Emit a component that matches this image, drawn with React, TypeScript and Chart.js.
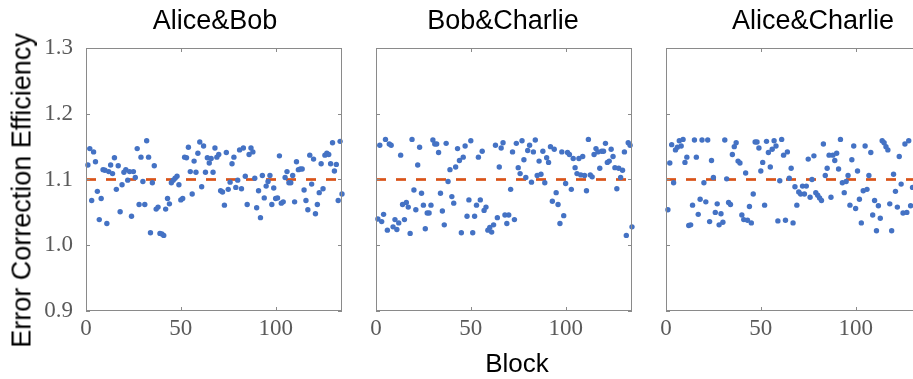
import React, { useEffect, useRef } from "react";
import { Chart, registerables } from "chart.js";

Chart.register(...registerables);

// ---------------- data ----------------
const panelTitles = ["Alice&Bob", "Bob&Charlie", "Alice&Charlie"];

const aliceBob = [
  1.122, 1.147, 1.068, 1.142, 1.127, 1.082, 1.039, 1.071, 1.115, 1.114,
  1.033, 1.112, 1.122, 1.109, 1.133, 1.085, 1.121, 1.051, 1.092, 1.111,
  1.115, 1.099, 1.112, 1.044, 1.112, 1.103, 1.147, 1.062, 1.134, 1.097,
  1.062, 1.159, 1.134, 1.019, 1.095, 1.121, 1.055, 1.058, 1.018, 1.017,
  1.015, 1.055, 1.071, 1.063, 1.095, 1.099, 1.102, 1.105, 1.092, 1.069,
  1.071, 1.134, 1.133, 1.149, 1.112, 1.078, 1.128, 1.111, 1.14, 1.157,
  1.089, 1.151, 1.111, 1.133, 1.125, 1.132, 1.111, 1.148, 1.134, 1.138,
  1.083, 1.081, 1.061, 1.141, 1.085, 1.096, 1.124, 1.134, 1.088, 1.099,
  1.145, 1.086, 1.148, 1.105, 1.062, 1.138, 1.148, 1.142, 1.102, 1.057,
  1.083, 1.042, 1.106, 1.072, 1.09, 1.097, 1.106, 1.062, 1.087, 1.071,
  1.072, 1.136, 1.064, 1.066, 1.103, 1.112, 1.095, 1.095, 1.106, 1.066,
  1.127, 1.115, 1.116, 1.116, 1.084, 1.068, 1.054, 1.137, 1.093, 1.131,
  1.048, 1.062, 1.08, 1.124, 1.086, 1.137, 1.14, 1.138, 1.124, 1.156,
  1.113, 1.123, 1.068, 1.158, 1.078,
];

const bobCharlie = [
  1.04, 1.152, 1.036, 1.047, 1.161, 1.023, 1.154, 1.152, 1.028, 1.039,
  1.024, 1.034, 1.137, 1.062, 1.039, 1.065, 1.058, 1.018, 1.161, 1.084,
  1.054, 1.122, 1.149, 1.079, 1.061, 1.025, 1.049, 1.049, 1.061, 1.16,
  1.154, 1.154, 1.141, 1.079, 1.052, 1.031, 1.155, 1.097, 1.115, 1.074,
  1.064, 1.119, 1.147, 1.129, 1.019, 1.134, 1.151, 1.044, 1.069, 1.159,
  1.019, 1.044, 1.061, 1.134, 1.069, 1.143, 1.053, 1.058, 1.023, 1.027,
  1.02, 1.031, 1.152, 1.042, 1.119, 1.148, 1.156, 1.046, 1.033, 1.046,
  1.085, 1.142, 1.039, 1.155, 1.118, 1.109, 1.159, 1.13, 1.103, 1.144,
  1.152, 1.096, 1.142, 1.16, 1.106, 1.128, 1.108, 1.143, 1.095, 1.133,
  1.126, 1.15, 1.067, 1.146, 1.08, 1.062, 1.033, 1.142, 1.045, 1.094,
  1.141, 1.138, 1.085, 1.132, 1.118, 1.109, 1.132, 1.107, 1.135, 1.106,
  1.083, 1.161, 1.107, 1.104, 1.138, 1.147, 1.142, 1.117, 1.143, 1.143,
  1.155, 1.126, 1.128, 1.146, 1.135, 1.118, 1.086, 1.117, 1.103, 1.114,
  1.142, 1.015, 1.156, 1.152, 1.028,
];

const aliceCharlie = [
  1.054, 1.125, 1.153, 1.095, 1.145, 1.149, 1.159, 1.151, 1.161, 1.126,
  1.134, 1.03, 1.031, 1.061, 1.16, 1.134, 1.047, 1.07, 1.16, 1.095,
  1.066, 1.16, 1.036, 1.129, 1.103, 1.05, 1.063, 1.031, 1.048, 1.035,
  1.16, 1.101, 1.065, 1.062, 1.138, 1.15, 1.156, 1.128, 1.125, 1.046,
  1.039, 1.11, 1.038, 1.059, 1.034, 1.078, 1.157, 1.157, 1.148, 1.113,
  1.126, 1.061, 1.158, 1.141, 1.119, 1.146, 1.159, 1.151, 1.037, 1.098,
  1.161, 1.137, 1.038, 1.142, 1.102, 1.117, 1.034, 1.089, 1.061, 1.081,
  1.078, 1.09, 1.078, 1.09, 1.131, 1.073, 1.1, 1.136, 1.08, 1.076,
  1.072, 1.068, 1.154, 1.106, 1.117, 1.137, 1.073, 1.137, 1.129, 1.14,
  1.116, 1.161, 1.095, 1.08, 1.097, 1.106, 1.061, 1.13, 1.151, 1.056,
  1.113, 1.07, 1.034, 1.083, 1.151, 1.085, 1.106, 1.141, 1.046, 1.068,
  1.022, 1.06, 1.041, 1.159, 1.156, 1.15, 1.145, 1.063, 1.022, 1.108,
  1.082, 1.058, 1.135, 1.093, 1.049, 1.154, 1.05, 1.159, 1.06, 1.088,
];

const panelSeries = [aliceBob, bobCharlie, aliceCharlie];

const targetEfficiency = 1.1;
const xTicks = [0, 50, 100];
const yTicks = [0.9, 1, 1.1, 1.2, 1.3];
const xMin = 0;
const xMax = 135;
const yMin = 0.9;
const yMax = 1.3;
const yAxisLabel = "Error Correction Efficiency";
const xAxisLabel = "Block";

// ---------------- layout / style ----------------
const PANEL_LEFTS = [86, 376, 666];
const PLOT_W = 256;
const PLOT_TOP = 48;
const PLOT_H = 263;
const Y_AXIS_W = 60;
const X_AXIS_H = 45;
const PAD_TOP = 15;
const PAD_RIGHT = 12;

const SANS = "'Liberation Sans', Arial, Helvetica, sans-serif";
const SERIF = "'Liberation Serif', 'Times New Roman', serif";
const DOT = "#4472C4";
const DASH = "#D95319";
const BOX = "#8a8a8a";
const TICK_TEXT = "#5a5a5a";

const boxPlugin = {
  id: "matlabBox",
  afterDraw(chart: any) {
    const { ctx, chartArea: a, scales } = chart;
    const len = 4;
    ctx.save();
    ctx.strokeStyle = BOX;
    ctx.lineWidth = 1;
    ctx.strokeRect(a.left + 0.5, a.top + 0.5, a.right - a.left - 1, a.bottom - a.top - 1);
    ctx.beginPath();
    for (const t of scales.x.ticks) {
      const px = Math.round(scales.x.getPixelForValue(t.value)) + 0.5;
      ctx.moveTo(px, a.bottom);
      ctx.lineTo(px, a.bottom - len);
      ctx.moveTo(px, a.top);
      ctx.lineTo(px, a.top + len);
    }
    for (const t of scales.y.ticks) {
      const py = Math.round(scales.y.getPixelForValue(t.value)) + 0.5;
      ctx.moveTo(a.left, py);
      ctx.lineTo(a.left + len, py);
      ctx.moveTo(a.right, py);
      ctx.lineTo(a.right - len, py);
    }
    ctx.stroke();
    ctx.restore();
  },
};

function zeroPadding(s: any) {
  s.paddingTop = 0;
  s.paddingBottom = 0;
  s.paddingLeft = 0;
  s.paddingRight = 0;
}

function Panel({ values, left, showY }: { values: number[]; left: number; showY: boolean }) {
  const ref = useRef<HTMLCanvasElement | null>(null);
  const cw = Y_AXIS_W + PLOT_W + PAD_RIGHT;
  const ch = PAD_TOP + PLOT_H + X_AXIS_H;

  useEffect(() => {
    if (!ref.current) return;
    const points = values.map((v, i) => ({ x: i + 1, y: v }));
    const chart = new Chart(ref.current, {
      type: "scatter",
      data: {
        datasets: [
          {
            label: "efficiency",
            data: points,
            backgroundColor: DOT,
            borderWidth: 0,
            pointRadius: 2.7,
            pointHoverRadius: 2.7,
            clip: false as any,
          },
          {
            label: "target",
            type: "line" as any,
            data: [
              { x: xMin, y: targetEfficiency },
              { x: xMax, y: targetEfficiency },
            ],
            borderColor: DASH,
            borderWidth: 2.7,
            borderDash: [10, 10],
            pointRadius: 0,
            fill: false,
          } as any,
        ],
      },
      options: {
        responsive: false,
        animation: false,
        devicePixelRatio: 1,
        layout: { padding: { top: PAD_TOP, right: PAD_RIGHT, left: 0, bottom: 0 } },
        plugins: { legend: { display: false }, tooltip: { enabled: false }, title: { display: false } },
        events: [],
        scales: {
          x: {
            type: "linear",
            min: xMin,
            max: xMax,
            grid: { display: false, drawTicks: false },
            border: { display: false },
            afterBuildTicks: (s: any) => {
              s.ticks = xTicks.map((v) => ({ value: v }));
            },
            afterFit: (s: any) => {
              s.height = X_AXIS_H;
              zeroPadding(s);
            },
            ticks: {
              padding: 4,
              color: TICK_TEXT,
              font: { family: SERIF, size: 23 },
              maxRotation: 0,
              autoSkip: false,
            },
          },
          y: {
            type: "linear",
            min: yMin,
            max: yMax,
            grid: { display: false, drawTicks: false },
            border: { display: false },
            afterBuildTicks: (s: any) => {
              s.ticks = yTicks.map((v) => ({ value: v }));
            },
            afterFit: (s: any) => {
              s.width = Y_AXIS_W;
              zeroPadding(s);
            },
            ticks: {
              display: showY,
              padding: 13,
              color: TICK_TEXT,
              font: { family: SERIF, size: 23 },
              autoSkip: false,
            },
          },
        },
      },
      plugins: [boxPlugin],
    });
    return () => chart.destroy();
  }, [values, showY]);

  return (
    <canvas
      ref={ref}
      width={cw}
      height={ch}
      style={{
        position: "absolute",
        left: left - Y_AXIS_W,
        top: PLOT_TOP - PAD_TOP,
        width: cw,
        height: ch,
      }}
    />
  );
}

const textBase: React.CSSProperties = {
  position: "absolute",
  fontFamily: SANS,
  fontSize: 27,
  lineHeight: "27px",
  color: "#000",
  whiteSpace: "nowrap",
  textAlign: "center",
};

export default function App() {
  const titleCenters = [215, 503, 813];
  return (
    <div
      style={{
        position: "absolute",
        left: 0,
        top: 0,
        width: 913,
        height: 379,
        overflow: "hidden",
        background: "#fff",
      }}
    >
      {panelSeries.map((vals, i) => (
        <Panel key={i} values={vals} left={PANEL_LEFTS[i]} showY={i === 0} />
      ))}
      {panelTitles.map((t, i) => (
        <div key={t} style={{ ...textBase, left: titleCenters[i] - 150, width: 300, top: 7 }}>
          {t}
        </div>
      ))}
      <div style={{ ...textBase, fontSize: 26, left: 517 - 100, width: 200, top: 350 }}>{xAxisLabel}</div>
      <div
        style={{
          ...textBase,
          left: 22 - 200,
          width: 400,
          top: 190 - 13,
          transform: "rotate(-90deg)",
          transformOrigin: "50% 50%",
        }}
      >
        {yAxisLabel}
      </div>
    </div>
  );
}
